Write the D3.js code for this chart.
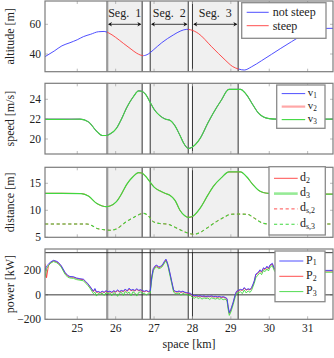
<!DOCTYPE html>
<html>
<head>
<meta charset="utf-8">
<script src="https://cdn.jsdelivr.net/npm/d3@7"></script>
<style>
  html, body { margin: 0; padding: 0; background: #fff; }
  svg { display: block; }
  text { font-family: "Liberation Serif", "DejaVu Serif", serif; fill: #222; }
</style>
</head>
<body>
<svg id="chart" width="334" height="358"></svg>
<script>
// ---- data ----
const xTicks = [25, 26, 27, 28, 29, 30, 31];

// segments (km)
const segLabels = ['Seg. 1', 'Seg. 2', 'Seg. 3'];
const segStart = [25.78, 26.90, 28.00];
const segEnd = [26.69, 27.89, 29.19];

// steep parts of the altitude profile (km)
const steepStart = [25.78, 27.89];
const steepEnd = [26.72, 29.20];

// altitude [m]
const altKm = [24.16, 24.4, 24.6, 24.81, 25.0, 25.16, 25.35, 25.55, 25.7, 25.81,
  26.0, 26.2, 26.4, 26.55, 26.72, 26.85, 26.98, 27.2, 27.5, 27.7,
  27.85, 27.95, 28.15, 28.5, 28.85, 29.05, 29.2, 29.35, 29.54, 29.8,
  30.06, 30.3, 30.58, 30.8, 31.0, 31.15, 31.3, 31.66];
const altitude = [38.2, 42, 45.5, 47.6, 49.6, 51.7, 53.3, 55.0, 55.2, 54.3,
  51.2, 47.2, 43.3, 40.5, 38.9, 40, 42.7, 47.6, 52.8, 55.6,
  56.6, 56.3, 53.9, 44.9, 36.0, 31.5, 29.9, 29.2, 31.4, 35.5,
  39.8, 43.8, 48.3, 51.8, 54.8, 56.5, 57.2, 57.3];

// speed [m/s]
const speedKm = [24.16, 24.6, 25.07, 25.3, 25.5, 25.65, 25.75, 25.85, 26.02, 26.15,
  26.28, 26.45, 26.6, 26.68, 26.78, 26.89, 27.0, 27.15, 27.3, 27.41,
  27.55, 27.67, 27.8, 27.89, 27.98, 28.2, 28.4, 28.54, 28.75, 28.95,
  29.25, 29.4, 29.58, 29.72, 29.84, 30.0, 30.19, 31.66];
const v1 = [22, 22, 22, 21.7, 20.8, 20.35, 20.35, 20.5, 21.07, 22.0,
  23.1, 24.2, 24.85, 24.8, 24.5, 23.76, 23.0, 22.35, 22.0, 21.9,
  21.3, 20.4, 19.4, 19.05, 19.15, 20.06, 21.6, 22.6, 23.9, 25.0,
  25.0, 24.5, 23.4, 22.6, 22.24, 22.05, 22.0, 22.0];
const v2 = [22, 22, 22, 21.7, 20.8, 20.35, 20.35, 20.5, 21.07, 22.0,
  23.1, 24.2, 24.85, 24.8, 24.5, 23.76, 23.0, 22.35, 22.0, 21.9,
  21.3, 20.4, 19.4, 19.05, 19.15, 20.06, 21.6, 22.6, 23.9, 25.0,
  25.0, 24.5, 23.4, 22.6, 22.24, 22.05, 22.0, 22.0];
const v3 = [21.98, 21.98, 22, 21.7, 20.8, 20.35, 20.35, 20.5, 21.07, 22.0,
  23.1, 24.2, 24.85, 24.8, 24.5, 23.76, 23.0, 22.35, 22.0, 21.9,
  21.3, 20.4, 19.4, 19.05, 19.15, 20.06, 21.6, 22.6, 23.9, 25.0,
  25.0, 24.5, 23.4, 22.6, 22.24, 22.05, 22.0, 22.0];

// distance [m]
const distKm = [24.16, 24.6, 25.1, 25.3, 25.5, 25.65, 25.75, 25.85, 26.02, 26.15,
  26.28, 26.45, 26.6, 26.68, 26.78, 26.89, 27.0, 27.15, 27.3, 27.41,
  27.55, 27.67, 27.8, 27.89, 27.98, 28.2, 28.4, 28.54, 28.75, 28.95,
  29.25, 29.4, 29.58, 29.72, 29.84, 30.02, 30.2, 31.66];
const d2 = [13.15, 13.15, 13.1, 12.6, 11.3, 10.8, 10.67, 10.8, 11.6, 13.0,
  14.7, 16.2, 16.96, 16.9, 16.3, 15.3, 14.3, 13.6, 13.1, 12.8,
  11.8, 10.05, 9.0, 8.7, 8.8, 10.4, 12.8, 14.4, 16.0, 17.1,
  17.1, 16.3, 14.7, 13.7, 13.3, 13.1, 13.0, 13.0];
const d3v = [13.15, 13.15, 13.1, 12.6, 11.3, 10.8, 10.67, 10.8, 11.6, 13.0,
  14.7, 16.2, 16.96, 16.9, 16.3, 15.3, 14.3, 13.6, 13.1, 12.8,
  11.8, 10.05, 9.0, 8.7, 8.8, 10.4, 12.8, 14.4, 16.0, 17.1,
  17.1, 16.3, 14.7, 13.7, 13.3, 13.1, 13.0, 13.0];
const safeKm = [24.16, 24.8, 25.25, 25.4, 25.5, 25.7, 25.85, 26.0, 26.28, 26.5,
  26.72, 26.85, 26.98, 27.15, 27.33, 27.45, 27.6, 27.8, 28.03, 28.2,
  28.37, 28.6, 28.85, 28.98, 29.2, 29.43, 29.6, 29.84, 30.0, 31.66];
const ds2 = [7.46, 7.46, 7.46, 7.1, 6.67, 6.4, 6.3, 6.5, 7.9, 8.8,
  9.44, 9.0, 7.9, 7.55, 7.46, 7.2, 6.67, 6.0, 5.56, 5.9,
  6.67, 7.8, 8.8, 9.26, 9.3, 9.26, 8.6, 7.6, 7.46, 7.46];
const ds3 = [7.46, 7.46, 7.46, 7.1, 6.67, 6.4, 6.3, 6.5, 7.9, 8.8,
  9.44, 9.0, 7.9, 7.55, 7.46, 7.2, 6.67, 6.0, 5.56, 5.9,
  6.67, 7.8, 8.8, 9.26, 9.3, 9.26, 8.6, 7.6, 7.46, 7.46];

// power [kW]
const powerKm = [
  24.16, 24.20, 24.25, 24.30, 24.38, 24.45, 24.50, 24.58, 24.68, 24.75,
  24.81, 24.90, 24.98, 25.07, 25.16, 25.22, 25.28, 25.33, 25.38, 25.42,
  25.46, 25.50, 25.55, 25.60, 25.65, 25.70, 25.75, 25.80, 25.85, 25.90,
  25.95, 26.00, 26.05, 26.10, 26.15, 26.20, 26.25, 26.30, 26.35, 26.40,
  26.45, 26.50, 26.55, 26.60, 26.65, 26.70, 26.75, 26.80, 26.85, 26.90,
  26.94, 26.98, 27.03, 27.07, 27.12, 27.16, 27.20, 27.24, 27.28, 27.31,
  27.34, 27.37, 27.42, 27.46, 27.51, 27.55, 27.60, 27.65, 27.70, 27.75,
  27.80, 27.85, 27.90, 27.95, 28.00, 28.05, 28.10, 28.15, 28.20, 28.25,
  28.30, 28.35, 28.40, 28.45, 28.50, 28.55, 28.60, 28.65, 28.70, 28.75,
  28.80, 28.85, 28.90, 28.93, 28.96, 29.00, 29.02, 29.06, 29.09, 29.12,
  29.15, 29.20, 29.25, 29.30, 29.35, 29.40, 29.45, 29.50, 29.54, 29.58,
  29.61, 29.65, 29.70, 29.76, 29.80, 29.85, 29.89, 29.94, 29.98, 30.02,
  30.08, 30.12, 30.16, 30.25, 30.40, 30.60, 30.80, 31.00, 31.30, 31.66];
const P1 = [
  200, 235, 250, 268, 282, 276, 268, 240, 185, 160,
  150, 148, 138, 132, 128, 110, 90, 70, 48, 30,
  52, 24, 28, 20, 30, 22, 35, 25, 30, 22,
  34, 26, 40, 28, 36, 30, 48, 32, 55, 38,
  44, 36, 50, 38, 42, 34, 30, 36, 28, 32,
  150, 215, 238, 244, 228, 232, 240, 258, 280, 292,
  270, 240, 170, 110, 40, 30, 26, 32, 24, 30,
  22, 18, 16, 12, -2, -8, -4, -10, -6, -12,
  -8, -14, -10, -12, -8, -14, -12, -16, -13, -18,
  -15, -20, -30, -95, -145, -118, -100, -60, -25, 10,
  30, 38, 45, 40, 60, 42, 50, 44, 60, 90,
  115, 170, 180, 205, 190, 222, 212, 235, 218, 245,
  258, 225, 205, 215, 200, 210, 200, 205, 200, 200];
const P2 = [
  255, 140, 240, 262, 278, 272, 262, 236, 180, 155,
  146, 144, 134, 128, 124, 106, 86, 66, 44, 26,
  46, 20, 24, 16, 26, 18, 30, 22, 26, 18,
  30, 22, 34, 24, 32, 26, 42, 28, 48, 34,
  40, 32, 44, 34, 38, 30, 26, 32, 24, 28,
  142, 208, 232, 238, 222, 226, 234, 252, 274, 286,
  264, 234, 164, 104, 34, 26, 22, 28, 20, 26,
  18, 14, 12, 8, -6, -12, -8, -14, -10, -16,
  -12, -18, -14, -16, -12, -18, -16, -20, -17, -22,
  -19, -24, -36, -102, -152, -124, -106, -66, -30, 4,
  26, 34, 40, 36, 55, 38, 46, 40, 56, 84,
  110, 164, 174, 198, 184, 216, 206, 228, 212, 240,
  252, 220, 200, 210, 195, 205, 195, 200, 195, 195];
const P3 = [
  140, 215, 238, 258, 272, 265, 255, 228, 170, 145,
  138, 135, 125, 120, 115, 95, 75, 55, 30, 10,
  22, -10, 12, 4, 15, -5, 18, 8, 16, -8,
  18, 10, -12, 14, 20, -5, 28, 12, 22, -8,
  25, 15, -10, 20, 24, 10, 14, -2, 12, 15,
  125, 198, 222, 228, 214, 218, 226, 244, 265, 276,
  255, 222, 150, 92, 22, 12, 8, 16, -4, 12,
  5, 2, -2, -6, -20, -28, -16, -30, -22, -35,
  -24, -30, -26, -38, -24, -30, -34, -28, -36, -30,
  -40, -34, -50, -120, -168, -140, -120, -80, -45, -10,
  12, 18, 25, 10, 40, 15, 32, 20, 38, 70,
  95, 140, 160, 182, 165, 200, 190, 212, 195, 225,
  240, 205, 185, 195, 185, 195, 185, 190, 185, 185];
const powerLimit = 345;

// ---- layout ----
const COLORS = {
    blue: '#3b3bff',
    red: '#ff3b3b',
    green: '#3fd83f',
    frame: '#7c7c7c',
    tick: '#a8a8a8',
    shade: '#f0f0f0',
    dark: '#333'
};

const svg = d3.select('#chart');
const x = d3.scaleLinear().domain([24.16, 31.66]).range([45, 333]);

const zip = (xs, ys) => xs.map((k, i) => [k, ys[i]]);

/**
 * Draws the common parts of a panel and returns its group + y scale
 */
function makePanel(cfg) {
    const g = svg.append('g').attr('class', `panel ${cfg.id}`);
    const y = d3.scaleLinear().domain(cfg.domain).range([cfg.bottom, cfg.top]);
    const h = cfg.bottom - cfg.top;

    g.append('clipPath').attr('id', `clip-${cfg.id}`)
        .append('rect')
        .attr('x', x.range()[0]).attr('y', cfg.top)
        .attr('width', x.range()[1] - x.range()[0]).attr('height', h);

    // shaded segments
    g.selectAll('rect.seg')
        .data(segStart)
        .join('rect')
        .attr('class', 'seg')
        .attr('x', d => x(d))
        .attr('width', (d, i) => x(segEnd[i]) - x(d))
        .attr('y', cfg.top)
        .attr('height', h)
        .attr('fill', COLORS.shade);

    // segment borders
    const bounds = segStart.flatMap((d, i) => [d, segEnd[i]]);
    g.selectAll('line.bound')
        .data(bounds)
        .join('line')
        .attr('class', 'bound')
        .attr('x1', d => x(d)).attr('x2', d => x(d))
        .attr('y1', cfg.top).attr('y2', cfg.bottom)
        .attr('stroke', (d, i) => i === 0 ? '#9a9a9a' : COLORS.dark)
        .attr('stroke-width', (d, i) => i === 0 ? 2.2 : 1);

    // inner ticks
    const ticks = g.append('g').attr('stroke', COLORS.tick).attr('stroke-width', 0.8);
    xTicks.forEach(t => {
        ticks.append('line').attr('x1', x(t)).attr('x2', x(t)).attr('y1', cfg.bottom).attr('y2', cfg.bottom - 3);
        ticks.append('line').attr('x1', x(t)).attr('x2', x(t)).attr('y1', cfg.top).attr('y2', cfg.top + 3);
    });
    cfg.ticks.forEach(t => {
        ticks.append('line').attr('x1', x.range()[0]).attr('x2', x.range()[0] + 3).attr('y1', y(t)).attr('y2', y(t));
        ticks.append('line').attr('x1', x.range()[1]).attr('x2', x.range()[1] - 3).attr('y1', y(t)).attr('y2', y(t));
    });

    // tick labels
    g.selectAll('text.ytick')
        .data(cfg.ticks)
        .join('text')
        .attr('class', 'ytick')
        .attr('x', 41)
        .attr('y', d => y(d) + 4)
        .attr('text-anchor', 'end')
        .style('font-size', '11.5px')
        .text(d => d < 0 ? `\u2212${Math.abs(d)}` : d);

    // axis label
    g.append('text')
        .attr('transform', `translate(14,${(cfg.top + cfg.bottom) / 2}) rotate(-90)`)
        .attr('text-anchor', 'middle')
        .style('font-size', '12px')
        .text(cfg.label);

    const plot = g.append('g').attr('clip-path', `url(#clip-${cfg.id})`);
    return { g, plot, y, cfg };
}

function frame(p) {
    p.g.append('rect')
        .attr('x', x.range()[0]).attr('y', p.cfg.top)
        .attr('width', x.range()[1] - x.range()[0])
        .attr('height', p.cfg.bottom - p.cfg.top)
        .attr('fill', 'none')
        .attr('stroke', COLORS.frame)
        .attr('stroke-width', 1.2);
}

function drawLine(p, pts, style, curve, parent) {
    const line = d3.line()
        .x(d => x(d[0]))
        .y(d => p.y(d[1]))
        .curve(curve || d3.curveMonotoneX);
    return (parent || p.plot).append('path')
        .datum(pts)
        .attr('d', line)
        .attr('fill', 'none')
        .attr('stroke', style.color)
        .attr('stroke-width', style.width || 0.9)
        .attr('stroke-opacity', style.opacity || 1)
        .attr('stroke-dasharray', style.dash || null)
        .attr('stroke-linejoin', 'round');
}

/**
 * Legend box with sample lines; labels are [base, subscript]
 */
function legend(p, box, rows) {
    const g = p.g.append('g').attr('class', 'legend');
    const fs = box.fs || 12;
    g.append('rect')
        .attr('x', box.x).attr('y', box.y)
        .attr('width', box.w).attr('height', box.h)
        .attr('fill', '#fff')
        .attr('stroke', '#8a8a8a')
        .attr('stroke-width', 1.3);
    rows.forEach((r, i) => {
        const cy = box.y + box.first + i * box.step;
        g.append('line')
            .attr('x1', box.x + box.lx0).attr('x2', box.x + box.lx1)
            .attr('y1', cy).attr('y2', cy)
            .attr('stroke', r.color)
            .attr('stroke-width', r.width || 0.9)
            .attr('stroke-opacity', r.opacity || 1)
            .attr('stroke-dasharray', r.dash || null);
        const t = g.append('text')
            .attr('x', box.x + box.tx)
            .attr('y', cy + (r.label[1] ? 2.5 : 4))
            .style('font-size', `${fs}px`);
        t.append('tspan').text(r.label[0]);
        if (r.label[1]) {
            t.append('tspan')
                .attr('dy', 1.8)
                .style('font-size', `${fs * 0.66}px`)
                .text(r.label[1]);
        }
    });
}

// ---- panel 1: altitude ----
const pAlt = makePanel({ id: 'alt', top: 1, bottom: 71.7, domain: [28.08, 75.7], ticks: [40, 60], label: 'altitude [m]' });
const altPts = zip(altKm, altitude);

// split the profile into "not steep" / "steep" by clipping on the km ranges
const flatStart = [x.domain()[0]].concat(steepEnd);
const flatEnd = steepStart.concat([x.domain()[1]]);
function rangeClip(id, starts, ends) {
    pAlt.g.append('clipPath').attr('id', id)
        .selectAll('rect')
        .data(starts)
        .join('rect')
        .attr('x', d => x(d))
        .attr('width', (d, i) => x(ends[i]) - x(d))
        .attr('y', 1).attr('height', 71);
    return pAlt.plot.append('g').attr('clip-path', `url(#${id})`);
}
drawLine(pAlt, altPts, { color: COLORS.blue }, null, rangeClip('clip-flat', flatStart, flatEnd));
drawLine(pAlt, altPts, { color: COLORS.red }, null, rangeClip('clip-steep', steepStart, steepEnd));

// segment arrows + labels
const arrowY = 24.3;
const segG = pAlt.g.append('g').attr('class', 'seg-labels');
segStart.forEach((s, i) => {
    const x0 = x(s) + 0.8, x1 = x(segEnd[i]) - 0.8;
    segG.append('line')
        .attr('x1', x0 + 1).attr('x2', x1 - 1)
        .attr('y1', arrowY).attr('y2', arrowY)
        .attr('stroke', '#111').attr('stroke-width', 0.8);
    segG.append('path')
        .attr('d', `M${x0},${arrowY} l4,-2.3 l-1.2,2.3 l1.2,2.3 Z`)
        .attr('fill', '#111');
    segG.append('path')
        .attr('d', `M${x1},${arrowY} l-4,-2.3 l1.2,2.3 l-1.2,2.3 Z`)
        .attr('fill', '#111');
    segG.append('text')
        .attr('x', (x0 + x1) / 2)
        .attr('y', 16.5)
        .attr('text-anchor', 'middle')
        .style('font-size', '12px')
        .text(segLabels[i].replace(' ', '\u00a0\u00a0'));
});
frame(pAlt);
legend(pAlt, { x: 241.7, y: 2.7, w: 84.3, h: 35.6, first: 9.6, step: 13.4, lx0: 5, lx1: 27, tx: 31 }, [
    { label: ['not steep'], color: COLORS.blue },
    { label: ['steep'], color: COLORS.red }
]);

// ---- panel 2: speed ----
const pSpeed = makePanel({ id: 'speed', top: 83.3, bottom: 154, domain: [18.49, 25.61], ticks: [20, 22, 24], label: 'speed [m/s]' });
drawLine(pSpeed, zip(speedKm, v1), { color: COLORS.blue });
drawLine(pSpeed, zip(speedKm, v2), { color: COLORS.red, opacity: 0.5 });
drawLine(pSpeed, zip(speedKm, v3), { color: COLORS.green, width: 1.1 });
frame(pSpeed);
legend(pSpeed, { x: 276.7, y: 85, w: 48.3, h: 43.3, first: 8.6, step: 13, lx0: 5, lx1: 28.5, tx: 31, fs: 11 }, [
    { label: ['v', '1'], color: COLORS.blue },
    { label: ['v', '2'], color: COLORS.red, width: 2.2, opacity: 0.45 },
    { label: ['v', '3'], color: COLORS.green, width: 1.1 }
]);

// ---- panel 3: distance ----
const pDist = makePanel({ id: 'dist', top: 167.3, bottom: 237.3, domain: [5, 17.96], ticks: [5, 10, 15], label: 'distance [m]' });
drawLine(pDist, zip(distKm, d2), { color: COLORS.red });
drawLine(pDist, zip(distKm, d3v), { color: COLORS.green, width: 1.2 });
drawLine(pDist, zip(safeKm, ds2), { color: COLORS.red, dash: '3.2,2.6' });
drawLine(pDist, zip(safeKm, ds3), { color: COLORS.green, width: 1.1, dash: '3.2,2.6' });
frame(pDist);
legend(pDist, { x: 269, y: 166.7, w: 56.3, h: 68.3, first: 11.6, step: 15.3, lx0: 5, lx1: 28.7, tx: 31 }, [
    { label: ['d', '2'], color: COLORS.red },
    { label: ['d', '3'], color: COLORS.green, width: 2.6, opacity: 0.55 },
    { label: ['d', 's,2'], color: COLORS.red, dash: '3.2,2.6' },
    { label: ['d', 's,3'], color: COLORS.green, width: 1.1, dash: '3.2,2.6' }
]);

// ---- panel 4: power ----
const pPow = makePanel({ id: 'power', top: 249, bottom: 319.3, domain: [-200, 375], ticks: [-200, 0, 200], label: 'power [kW]' });
[0, powerLimit].forEach(v => {
    pPow.plot.append('line')
        .attr('x1', x.range()[0]).attr('x2', x.range()[1])
        .attr('y1', pPow.y(v)).attr('y2', pPow.y(v))
        .attr('stroke', '#222').attr('stroke-width', 0.9);
});
drawLine(pPow, zip(powerKm, P2), { color: COLORS.red }, d3.curveLinear);
drawLine(pPow, zip(powerKm, P3), { color: COLORS.green }, d3.curveLinear);
drawLine(pPow, zip(powerKm, P1), { color: COLORS.blue }, d3.curveLinear);
frame(pPow);
legend(pPow, { x: 275, y: 251, w: 50, h: 50.7, first: 10, step: 15.3, lx0: 4.3, lx1: 28.3, tx: 31 }, [
    { label: ['P', '1'], color: COLORS.blue },
    { label: ['P', '2'], color: COLORS.red },
    { label: ['P', '3'], color: COLORS.green }
]);

// x tick labels + axis title (bottom panel only)
svg.append('g')
    .selectAll('text')
    .data(xTicks)
    .join('text')
    .attr('x', d => x(d))
    .attr('y', 332)
    .attr('text-anchor', 'middle')
    .style('font-size', '11.5px')
    .text(d => d);

svg.append('text')
    .attr('x', (x.range()[0] + x.range()[1]) / 2)
    .attr('y', 348)
    .attr('text-anchor', 'middle')
    .style('font-size', '12px')
    .text('space [km]');
</script>
</body>
</html>
